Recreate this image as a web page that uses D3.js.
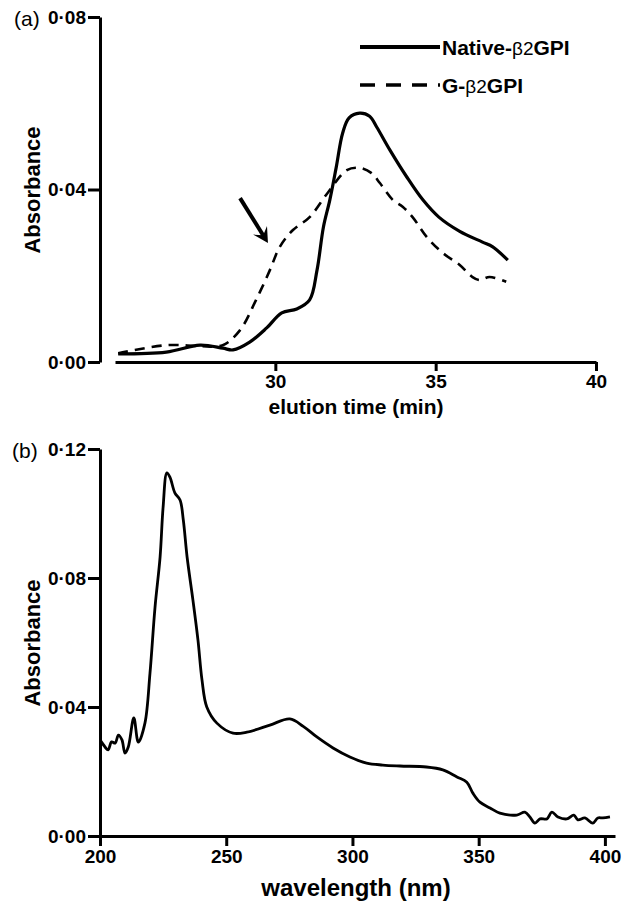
<!DOCTYPE html>
<html>
<head>
<meta charset="utf-8">
<script src="https://cdn.jsdelivr.net/npm/d3@7"></script>
<style>
  body { margin: 0; background: #fff; }
  text { font-family: "Liberation Sans", Arial, sans-serif; }
</style>
</head>
<body>
<div id="vis"></div>
<script>
// panel (a): elution profiles
let elutionTime = [25.1, 26.6, 27.65, 28.36, 28.68, 29.2, 29.73, 30.2, 30.67, 31.07, 31.3, 31.5, 31.7, 31.9, 32.1, 32.3, 32.63, 32.94, 33.16, 33.57, 34.1, 34.6, 35.1, 35.75, 36.46, 36.78, 37.25];
let nativeAbs = [0.0019, 0.0023, 0.0039, 0.0032, 0.0028, 0.0046, 0.0079, 0.0114, 0.0123, 0.0144, 0.0213, 0.0313, 0.0376, 0.0452, 0.0531, 0.0566, 0.0577, 0.057, 0.0545, 0.0492, 0.0429, 0.0376, 0.0336, 0.0303, 0.0278, 0.0267, 0.0236];

let gTime = [25.1, 26.6, 27.65, 28.36, 28.9, 29.4, 29.83, 30.14, 30.55, 31.07, 31.63, 32.23, 32.63, 33.0, 33.26, 33.66, 33.97, 34.28, 34.72, 35.22, 35.75, 36.15, 36.37, 36.68, 37.2];
let gAbs = [0.002, 0.0039, 0.0037, 0.0039, 0.0074, 0.0144, 0.0213, 0.0267, 0.0306, 0.0336, 0.0392, 0.0445, 0.045, 0.0438, 0.0415, 0.0376, 0.036, 0.0336, 0.029, 0.0253, 0.0225, 0.0197, 0.019, 0.0197, 0.0186];

let seriesNames = ["Native-", "G-"];
let xTicksA = [30, 35, 40];
let yTicksA = [0, 0.04, 0.08];

// panel (b): UV spectrum
let wavelength = [200, 202, 203.2, 204.6, 206, 207.3, 208.7, 209.9, 211.2, 213.4, 215.2, 217.8, 219.8, 221.8, 223.8, 225, 226.5, 227.7, 229.7, 231.7, 233, 234.5, 236.8, 238.8, 240.4, 242.3, 246.3, 252.7, 258.2, 267.3, 275.2, 280.5, 285.9, 292.3, 299, 305.6, 312, 318.8, 329.3, 335.8, 341.4, 345.3, 347.7, 350.5, 354.5, 358.4, 365.1, 368.3, 370.3, 372.3, 374.3, 377, 379, 381.4, 384.9, 387.7, 389.3, 392.1, 395.2, 397.2, 399.2, 402];
let spectrumAbs = [0.0298, 0.0276, 0.0267, 0.0292, 0.0288, 0.0313, 0.0298, 0.0257, 0.0276, 0.0366, 0.0291, 0.035, 0.0505, 0.071, 0.0865, 0.102, 0.1126, 0.1113, 0.1063, 0.1042, 0.098, 0.0865, 0.0732, 0.0608, 0.0484, 0.04, 0.035, 0.0319, 0.0322, 0.0344, 0.0363, 0.034, 0.0307, 0.0273, 0.0245, 0.0226, 0.022, 0.0217, 0.0214, 0.0205, 0.0183, 0.0167, 0.0133, 0.0105, 0.0087, 0.0071, 0.0065, 0.0074, 0.0059, 0.004, 0.0053, 0.0053, 0.0074, 0.0059, 0.0053, 0.0065, 0.005, 0.0056, 0.004, 0.0056, 0.0056, 0.0059];
let xTicksB = [200, 250, 300, 350, 400];
let yTicksB = [0, 0.04, 0.08, 0.12];

let W = 630, H = 905;
let svg = d3.select('#vis')
  .append('svg')
  .attr('width', W)
  .attr('height', H)
  .style('background-color', 'white');

let fmt = d => d3.format('.2f')(d).replace('.', '\u00B7');

function styleAxis(g) {
  g.select('.domain').attr('stroke', '#000').attr('stroke-width', 3);
  g.selectAll('.tick line').attr('stroke', '#000').attr('stroke-width', 3);
  g.selectAll('.tick text')
    .attr('fill', '#000')
    .style('font-size', '19px')
    .style('font-weight', 'bold');
}

// ---------- panel (a) ----------
let xA = d3.scaleLinear().domain([25, 40]).range([115, 596]);
let yA = d3.scaleLinear().domain([0, 0.08]).range([362, 17]);

svg.append('g')
  .attr('transform', 'translate(100,0)')
  .call(d3.axisLeft(yA).tickValues(yTicksA).tickFormat(fmt).tickSize(12).tickSizeOuter(0).tickPadding(2))
  .call(styleAxis);

svg.append('g')
  .attr('transform', 'translate(0,362)')
  .call(d3.axisBottom(xA).tickValues(xTicksA).tickSize(9).tickSizeOuter(0).tickPadding(4))
  .call(styleAxis);

let lineNative = d3.line()
  .x((d, i) => xA(elutionTime[i]))
  .y(d => yA(d))
  .curve(d3.curveCatmullRom);

let lineG = d3.line()
  .x((d, i) => xA(gTime[i]))
  .y(d => yA(d))
  .curve(d3.curveCatmullRom);

svg.append('path')
  .datum(nativeAbs)
  .attr('d', lineNative)
  .attr('fill', 'none')
  .attr('stroke', '#000')
  .attr('stroke-width', 3.2)
  .attr('stroke-linejoin', 'round');

svg.append('path')
  .datum(gAbs)
  .attr('d', lineG)
  .attr('fill', 'none')
  .attr('stroke', '#000')
  .attr('stroke-width', 2.6)
  .attr('stroke-dasharray', '10,7');

// arrow pointing at the shoulder
let tail = [xA(28.9), yA(0.038)], tip = [xA(29.77), yA(0.0276)];
let ang = Math.atan2(tip[1] - tail[1], tip[0] - tail[0]);
let headLen = 17, headW = 0.5;
svg.append('line')
  .attr('x1', tail[0]).attr('y1', tail[1])
  .attr('x2', tip[0] - 8 * Math.cos(ang)).attr('y2', tip[1] - 8 * Math.sin(ang))
  .attr('stroke', '#000').attr('stroke-width', 4);
svg.append('path')
  .attr('d', 'M' + tip[0] + ',' + tip[1] +
    'L' + (tip[0] - headLen * Math.cos(ang - headW)) + ',' + (tip[1] - headLen * Math.sin(ang - headW)) +
    'L' + (tip[0] - 9 * Math.cos(ang)) + ',' + (tip[1] - 9 * Math.sin(ang)) +
    'L' + (tip[0] - headLen * Math.cos(ang + headW)) + ',' + (tip[1] - headLen * Math.sin(ang + headW)) + 'Z')
  .attr('fill', '#000');

// legend
let legend = svg.append('g');
seriesNames.forEach((name, i) => {
  let ly = 47 + i * 38;
  legend.append('line')
    .attr('x1', 360).attr('x2', 440)
    .attr('y1', ly).attr('y2', ly)
    .attr('stroke', '#000')
    .attr('stroke-width', i == 0 ? 4 : 3.5)
    .attr('stroke-dasharray', i == 0 ? null : '15,11');
  let t = legend.append('text')
    .attr('x', 442).attr('y', ly + 7.5)
    .style('font-size', '21px')
    .style('font-weight', 'bold');
  t.append('tspan').text(name);
  t.append('tspan').style('font-weight', 'normal').style('font-size', '19px').text('\u03B22');
  t.append('tspan').text('GPI');
});

svg.append('text')
  .attr('x', 356).attr('y', 414)
  .attr('text-anchor', 'middle')
  .style('font-size', '21px').style('font-weight', 'bold')
  .text('elution time (min)');

svg.append('text')
  .attr('transform', 'translate(40,190) rotate(-90)')
  .attr('text-anchor', 'middle')
  .style('font-size', '22px').style('font-weight', 'bold')
  .text('Absorbance');

svg.append('text')
  .attr('x', 14).attr('y', 26)
  .style('font-size', '21px')
  .text('(a)');

// ---------- panel (b) ----------
let xB = d3.scaleLinear().domain([200, 404]).range([100, 615]);
let yB = d3.scaleLinear().domain([0, 0.12]).range([836, 449]);

svg.append('g')
  .attr('transform', 'translate(100,0)')
  .call(d3.axisLeft(yB).tickValues(yTicksB).tickFormat(fmt).tickSize(12).tickSizeOuter(0).tickPadding(2))
  .call(styleAxis);

svg.append('g')
  .attr('transform', 'translate(0,836)')
  .call(d3.axisBottom(xB).tickValues(xTicksB).tickSize(10).tickSizeOuter(0).tickPadding(4))
  .call(styleAxis);

let lineSpec = d3.line()
  .x((d, i) => xB(wavelength[i]))
  .y(d => yB(d))
  .curve(d3.curveCatmullRom);

svg.append('path')
  .datum(spectrumAbs)
  .attr('d', lineSpec)
  .attr('fill', 'none')
  .attr('stroke', '#000')
  .attr('stroke-width', 2.8)
  .attr('stroke-linejoin', 'round');

svg.append('text')
  .attr('x', 356).attr('y', 896)
  .attr('text-anchor', 'middle')
  .style('font-size', '24px').style('font-weight', 'bold')
  .text('wavelength (nm)');

svg.append('text')
  .attr('transform', 'translate(40,643) rotate(-90)')
  .attr('text-anchor', 'middle')
  .style('font-size', '22px').style('font-weight', 'bold')
  .text('Absorbance');

svg.append('text')
  .attr('x', 12).attr('y', 458)
  .style('font-size', '21px')
  .text('(b)');
</script>
</body>
</html>
